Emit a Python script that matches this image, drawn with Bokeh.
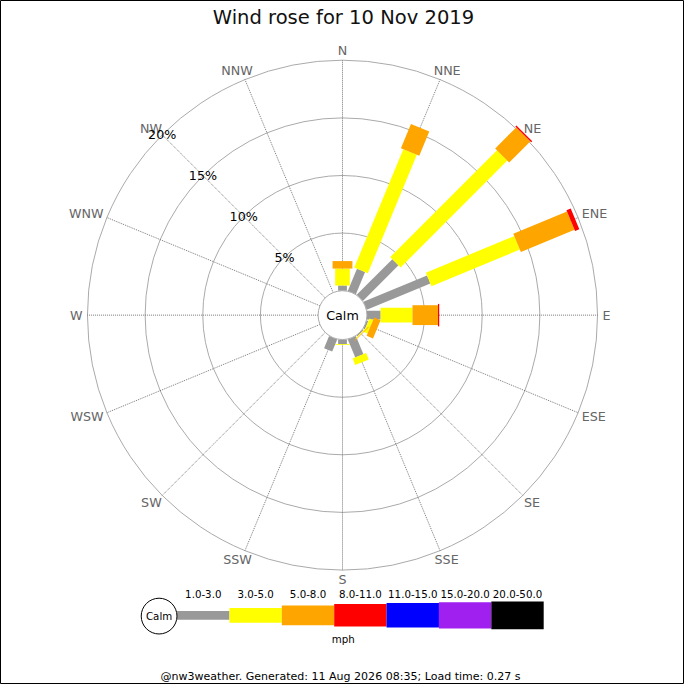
import numpy as np
from bokeh.plotting import figure
from bokeh.models import Range1d, ColumnDataSource
from bokeh.embed import file_html
from bokeh.resources import INLINE
from bokeh.core.properties import value

# ---------------- data ----------------
DIRECTIONS = ["N", "NNE", "NE", "ENE", "E", "ESE", "SE", "SSE",
              "S", "SSW", "SW", "WSW", "W", "WNW", "NW", "NNW"]
SPEED_BINS = ["1.0-3.0", "3.0-5.0", "5.0-8.0", "8.0-11.0",
              "11.0-15.0", "15.0-20.0", "20.0-50.0"]
# percentage of the day, per direction, for each speed bin (mph)
PCT_1_3 = [0.45, 2.08, 4.37, 5.97, 1.19, 0.15, 0.10, 1.70,
           0.40, 1.14, 0, 0, 0, 0, 0, 0]
PCT_3_5 = [1.47, 11.12, 13.10, 8.30, 2.76, 0.35, 0.08, 0.60,
           0.07, 0, 0, 0, 0, 0, 0, 0]
PCT_5_8 = [0.65, 2.27, 2.58, 5.04, 2.21, 0.60, 0.05, 0,
           0, 0, 0, 0, 0, 0, 0, 0]
PCT_8_11 = [0, 0, 0.13, 0.40, 0.11, 0, 0, 0,
            0, 0, 0, 0, 0, 0, 0, 0]
PCT_11_15 = [0] * 16
PCT_15_20 = [0] * 16
PCT_20_50 = [0] * 16
RING_PCTS = [5, 10, 15, 20]
TITLE = "Wind rose for 10 Nov 2019"
UNITS = "mph"
CALM_LABEL = "Calm"
FOOTER = "@nw3weather. Generated: 11 Aug 2026 08:35; Load time: 0.27 s"

SERIES = [PCT_1_3, PCT_3_5, PCT_5_8, PCT_8_11, PCT_11_15, PCT_15_20, PCT_20_50]

# ---------------- style ----------------
COLORS = ["#999999", "#ffff00", "#ffa500", "#ff0000", "#0000ff", "#a020f0", "#000000"]
S = 684 / 700.0                     # page scale (reference is 700 px)
PX_PER_PCT = 11.8                   # reference pixels per percent
CALM_R = 25 / PX_PER_PCT            # calm circle radius, in percent units
BAR_THICK = [9, 15, 20.3, 23, 25, 27, 28.3]
FONT = "DejaVu Sans"
CX, CY = 350, 322                   # reference centre


def fs(px):
    return value(f"{px * S:.2f}px")


def ref(xp, yp):
    """reference pixel -> data coordinates"""
    return (xp - CX) / PX_PER_PCT, (CY - yp) / PX_PER_PCT


x0, y0 = ref(0, 700)
x1, y1 = ref(700, 0)
p = figure(width=684, height=684, output_backend="svg", toolbar_location=None,
           x_range=Range1d(x0, x1), y_range=Range1d(y0, y1),
           min_border=0, background_fill_color="white",
           border_fill_color="white", outline_line_color="black")
p.axis.visible = False
p.grid.visible = False

n = len(DIRECTIONS)
theta = np.deg2rad(np.arange(n) * 360.0 / n)
R_OUT = CALM_R + max(RING_PCTS)

# rings
p.circle(x=[0] * len(RING_PCTS), y=[0] * len(RING_PCTS),
         radius=[CALM_R + r for r in RING_PCTS],
         fill_color=None, line_color="#aaaaaa", line_width=1)

# spokes
p.segment(x0=CALM_R * np.sin(theta), y0=CALM_R * np.cos(theta),
          x1=R_OUT * np.sin(theta), y1=R_OUT * np.cos(theta),
          line_color="#555555", line_width=0.8, line_dash="1 1")

# stacked bars
cum = np.zeros(n)
for k, ser in enumerate(SERIES):
    v = np.array(ser, dtype=float)
    mask = v > 0
    if mask.any():
        mid = CALM_R + cum + v / 2
        src = ColumnDataSource(dict(
            x=(mid * np.sin(theta))[mask], y=(mid * np.cos(theta))[mask],
            w=v[mask], a=(np.pi / 2 - theta)[mask]))
        p.rect(x="x", y="y", width="w", height=BAR_THICK[k] * S, angle="a",
               width_units="data", height_units="screen", source=src,
               fill_color=COLORS[k], line_color=None)
    cum = cum + v

# calm circle
p.circle(x=[0], y=[0], radius=CALM_R, fill_color="white",
         line_color="#aaaaaa", line_width=1)
p.text(x=[0], y=[0], text=[CALM_LABEL], text_font=value(FONT),
       text_font_size=fs(13), text_align="center", text_baseline="middle",
       text_color="black")

# direction labels
EM = {"N": 0.748, "E": 0.632, "S": 0.635, "W": 0.989}
r_lab = R_OUT + 5 / PX_PER_PCT
widths = [sum(EM[c] for c in d) * 13 * S for d in DIRECTIONS]
cap_h = 9.5 * S
dsrc = ColumnDataSource(dict(
    x=r_lab * np.sin(theta), y=r_lab * np.cos(theta), t=DIRECTIONS,
    xo=[w / 2 * np.sin(t) for w, t in zip(widths, theta)],
    yo=[-cap_h / 2 * np.cos(t) for t in theta]))
p.text(x="x", y="y", text="t", x_offset="xo", y_offset="yo", source=dsrc,
       text_font=value(FONT), text_font_size=fs(13), text_align="center",
       text_baseline="middle", text_color="#666666")

# percentage labels along NW spoke
nw = np.deg2rad(315)
p.text(x=[(CALM_R + r) * np.sin(nw) for r in RING_PCTS],
       y=[(CALM_R + r) * np.cos(nw) for r in RING_PCTS],
       text=[f"{r}%" for r in RING_PCTS], text_font=value(FONT),
       text_font_size=fs(13), text_align="center", text_baseline="middle",
       text_color="black")

# title
tx, ty = ref(351, 17)
p.text(x=[tx], y=[ty], text=[TITLE], text_font=value(FONT),
       text_font_size=fs(20), text_align="center", text_baseline="middle",
       text_color="#111111")

# legend
LEG_X0, LEG_SEG, LEG_Y = 180.7, 53.6, 629.2
lx = [ref(LEG_X0 + LEG_SEG * (i + 0.5), LEG_Y)[0] for i in range(len(SPEED_BINS))]
ly = ref(0, LEG_Y)[1]
p.rect(x=lx, y=[ly] * len(lx), width=LEG_SEG / PX_PER_PCT,
       height=[h * S for h in BAR_THICK], width_units="data",
       height_units="screen", fill_color=COLORS, line_color=None)
p.text(x=lx, y=[ref(0, 607.3)[1]] * len(lx), text=SPEED_BINS,
       text_font=value(FONT), text_font_size=fs(10.5), text_align="center",
       text_baseline="middle", text_color="black")
cx_, cy_ = ref(162.3, 630)
p.circle(x=[cx_], y=[cy_], radius=18.3 * S, radius_units="screen",
         fill_color="white", line_color="black", line_width=1)
p.text(x=[cx_], y=[cy_], text=[CALM_LABEL], text_font=value(FONT),
       text_font_size=fs(10.5), text_align="center", text_baseline="middle",
       text_color="black")
ux, uy = ref(350.8, 653.3)
p.text(x=[ux], y=[uy], text=[UNITS], text_font=value(FONT),
       text_font_size=fs(10.5), text_align="center", text_baseline="middle",
       text_color="black")

# footer
fx, fy = ref(348, 692.3)
p.text(x=[fx], y=[fy], text=[FOOTER], text_font=value(FONT),
       text_font_size=fs(11.3), text_align="center", text_baseline="middle",
       text_color="black")

open("out.html", "w").write(file_html(p, INLINE))
